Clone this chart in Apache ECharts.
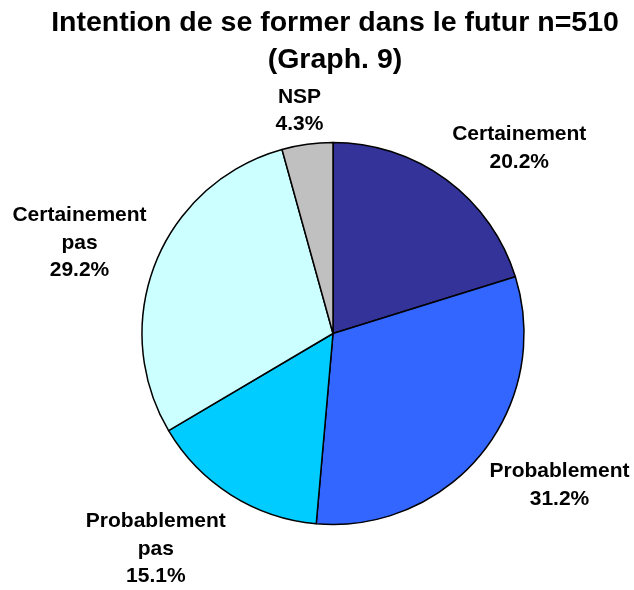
<!DOCTYPE html>
<html>
<head>
<meta charset="utf-8">
<script src="https://cdn.jsdelivr.net/npm/echarts@6/dist/echarts.min.js"></script>
<style>
html,body{margin:0;padding:0;background:#fff;}
#chart{width:634px;height:590px;}
</style>
</head>
<body>
<div id="chart"></div>
<script>
const titleText = 'Intention de se former dans le futur n=510\n(Graph. 9)';
const categories = ['Certainement', 'Probablement', 'Probablement pas', 'Certainement pas', 'NSP'];
const values = [20.2, 31.2, 15.1, 29.2, 4.3];
const colors = ['#333399', '#3366FF', '#00CCFF', '#CCFFFF', '#C0C0C0'];

const CX = 333, CY = 333.5, R = 191, GAP = 10;
const total = values.reduce((a, b) => a + b, 0);

function midDir(i) {
  let cum = 0;
  for (let k = 0; k < i; k++) cum += values[k];
  cum += values[i] / 2;
  const a = cum / total * Math.PI * 2;
  return [Math.sin(a), -Math.cos(a)];
}

const chart = echarts.init(document.getElementById('chart'), null, {renderer: 'canvas'});
chart.setOption({
  animation: false,
  backgroundColor: '#ffffff',
  title: {
    text: titleText,
    left: 335,
    top: 5,
    textAlign: 'center',
    padding: 0,
    textStyle: {
      fontFamily: 'Liberation Sans, Arial, sans-serif',
      fontWeight: 'bold',
      fontSize: 28.5,
      lineHeight: 37,
      color: '#000'
    }
  },
  series: [{
    type: 'pie',
    center: [CX, CY],
    radius: R,
    startAngle: 90,
    clockwise: true,
    avoidLabelOverlap: false,
    itemStyle: {borderColor: '#000', borderWidth: 1.5},
    label: {
      show: true,
      position: 'outside',
      fontFamily: 'Liberation Sans, Arial, sans-serif',
      fontWeight: 'bold',
      fontSize: 21,
      lineHeight: 27.5,
      color: '#000',
      formatter: p => p.name.replace(' pas', '\npas') + '\n' + p.value.toFixed(1) + '%'
    },
    labelLine: {show: false},
    labelLayout: function (params) {
      const d = midDir(params.dataIndex);
      const w = params.labelRect.width, h = params.labelRect.height;
      const px = CX + d[0] * (R + GAP);
      const py = CY + d[1] * (R + GAP);
      const fx = Math.max(-1, Math.min(1, d[0] * 2));
      const fy = Math.sign(d[1]) * Math.min(1, Math.abs(d[1]) * 1.25);
      return {
        x: px + fx * w / 2,
        y: py + fy * h / 2 + 4,
        align: 'center',
        verticalAlign: 'middle'
      };
    },
    emphasis: {disabled: true},
    data: categories.map((c, i) => ({
      name: c,
      value: values[i],
      itemStyle: {color: colors[i]}
    }))
  }]
});
</script>
</body>
</html>
